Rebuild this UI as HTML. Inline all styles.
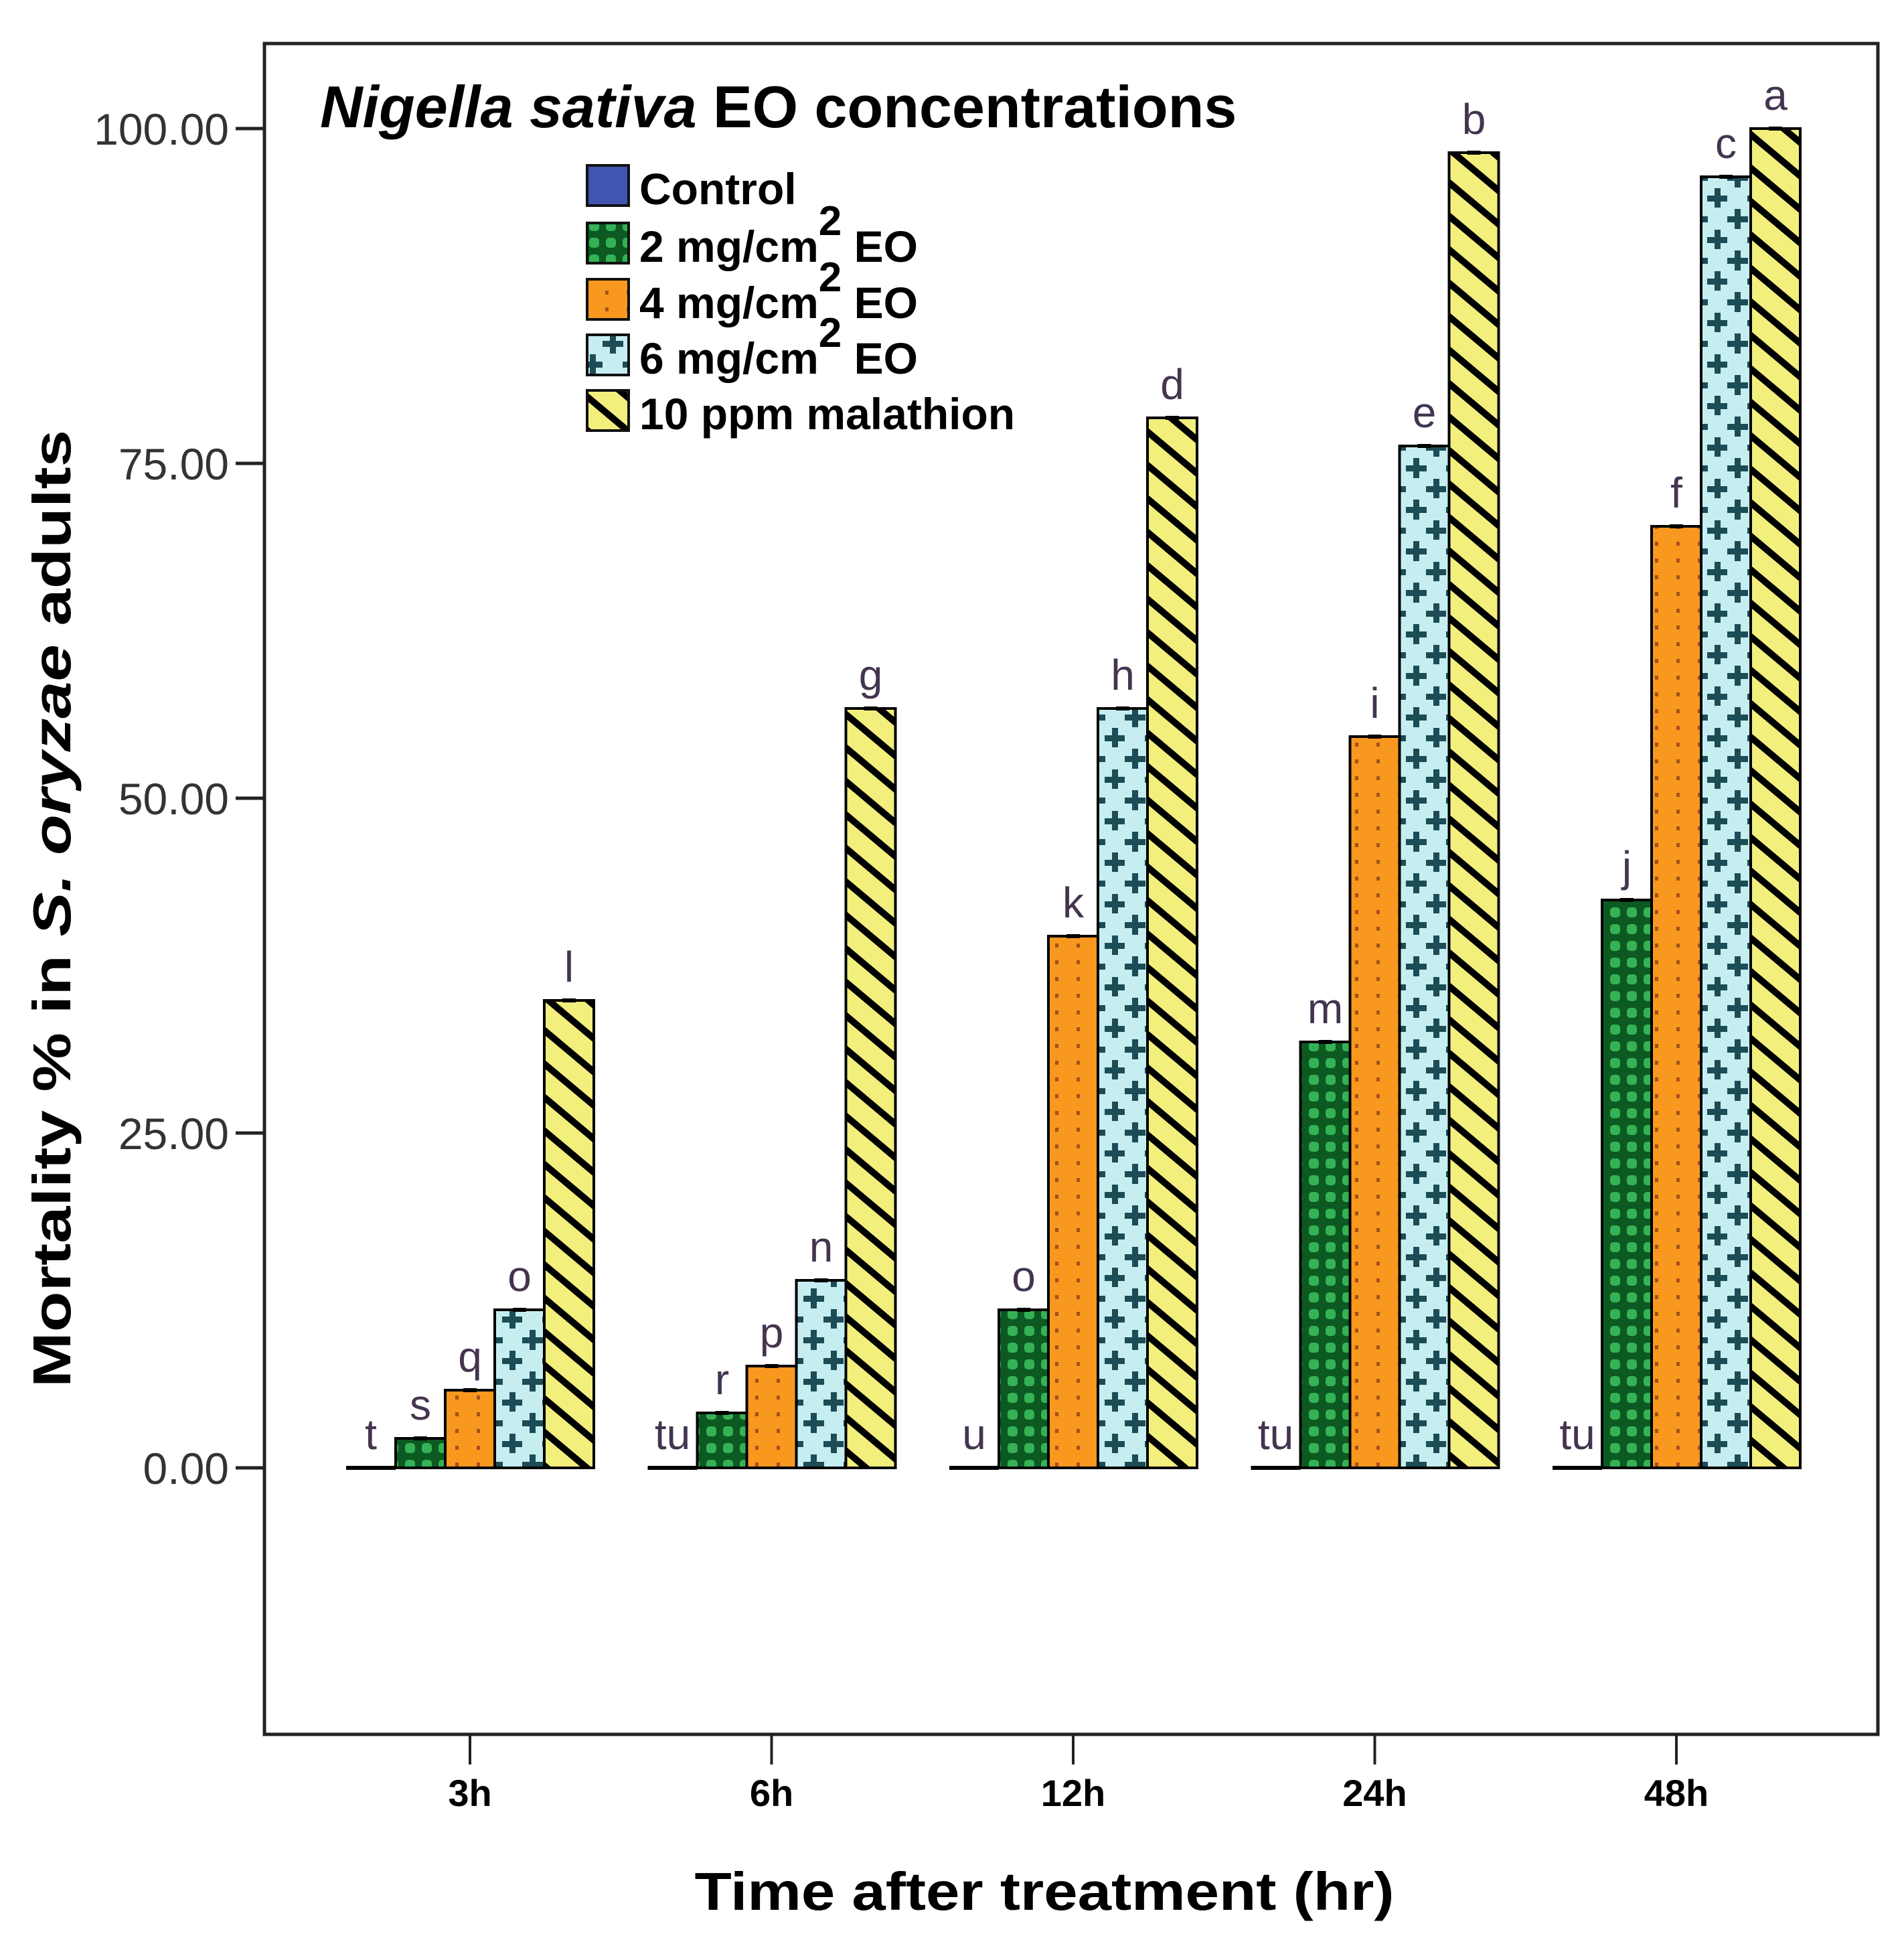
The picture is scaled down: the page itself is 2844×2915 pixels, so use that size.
<!DOCTYPE html>
<html><head><meta charset="utf-8"><style>
html,body{margin:0;padding:0;background:#fff;}
svg{display:block;}
text{font-family:"Liberation Sans",Arial,sans-serif;}
</style></head><body>
<svg id="chart" width="2844" height="2915" viewBox="0 0 2844 2915" xmlns="http://www.w3.org/2000/svg">
<defs>
<pattern id="pGreen" patternUnits="userSpaceOnUse" width="25" height="25">
<rect width="25" height="25" fill="#0c5a22"/><rect x="5" y="5" width="15" height="15" rx="5" fill="#35b255"/></pattern>
<pattern id="pOrange" patternUnits="userSpaceOnUse" width="32" height="25">
<rect width="32" height="25" fill="#f8981f"/><rect x="8" y="9" width="5" height="6" fill="#a3521a"/></pattern>
<pattern id="pCyan" patternUnits="userSpaceOnUse" width="60" height="62">
<rect width="60" height="62" fill="#c6eef1"/>
<g fill="#1c4c55"><rect x="11" y="2" width="9" height="30"/><rect x="0" y="13" width="31" height="9"/>
<rect x="41" y="33" width="9" height="30"/><rect x="30" y="44" width="31" height="9"/></g></pattern>
<pattern id="pYellow" patternUnits="userSpaceOnUse" width="60" height="50" patternTransform="skewY(40)">
<rect width="60" height="50" fill="#f3ef7d"/><rect y="0" width="60" height="13" fill="#000"/></pattern>
</defs>
<rect x="0" y="0" width="2844" height="2915" fill="#fff"/>
<rect x="395" y="65" width="2410" height="2525" fill="none" stroke="#222" stroke-width="5"/>
<g id="yaxis"></g>
<g id="xaxis"></g>
<g id="bars"></g>
<g id="labels"></g>
<text x="478" y="190" font-size="88" font-weight="bold"><tspan font-style="italic">Nigella sativa</tspan> EO concentrations</text>
<g font-size="66" font-weight="bold">
<g><rect x="877" y="247" width="62" height="60" fill="#3f55b0" stroke="#111" stroke-width="4"/><text x="955" y="305">Control</text></g>
<g><rect x="877" y="333" width="62" height="60" fill="url(#pGreen)" stroke="#111" stroke-width="4"/><text x="955" y="391">2 mg/cm<tspan dy="-40" font-size="62">2</tspan><tspan dy="40"> EO</tspan></text></g>
<g><rect x="877" y="417" width="62" height="60" fill="url(#pOrange)" stroke="#111" stroke-width="4"/><text x="955" y="475">4 mg/cm<tspan dy="-40" font-size="62">2</tspan><tspan dy="40"> EO</tspan></text></g>
<g><rect x="877" y="500" width="62" height="60" fill="url(#pCyan)" stroke="#111" stroke-width="4"/><text x="955" y="558">6 mg/cm<tspan dy="-40" font-size="62">2</tspan><tspan dy="40"> EO</tspan></text></g>
<g><rect x="877" y="583" width="62" height="60" fill="url(#pYellow)" stroke="#111" stroke-width="4"/><text x="955" y="641">10 ppm malathion</text></g>
</g>
<text transform="translate(105,1357) rotate(-90)" text-anchor="middle" font-size="80" font-weight="bold" textLength="1430" lengthAdjust="spacingAndGlyphs">Mortality % in <tspan font-style="italic">S. oryzae</tspan> adults</text>
<text x="1560" y="2852" text-anchor="middle" font-size="80" font-weight="bold" textLength="1045" lengthAdjust="spacingAndGlyphs">Time after treatment (hr)</text>
</svg>
<script>
const categories = ["3h","6h","12h","24h","48h"];
const seriesNames = ["Control","2 mg/cm2 EO","4 mg/cm2 EO","6 mg/cm2 EO","10 ppm malathion"];
const control = [0,0,0,0,0];
const eo2 = [2.2,4.1,11.8,31.8,42.4];
const eo4 = [5.8,7.6,39.7,54.6,70.3];
const eo6 = [11.8,14.0,56.7,76.3,96.4];
const malathion = [34.9,56.7,78.4,98.2,100];
const letters = [["t","s","q","o","l"],["tu","r","p","n","g"],["u","o","k","h","d"],["tu","m","i","e","b"],["tu","j","f","c","a"]];
const yTicks = [0,25,50,75,100];
const yTickLabels = ["0.00","25.00","50.00","75.00","100.00"];

const NS="http://www.w3.org/2000/svg";
const fills=["#3f55b0","url(#pGreen)","url(#pOrange)","url(#pCyan)","url(#pYellow)"];
const series=[control,eo2,eo4,eo6,malathion];
function y(v){return 2192 - v*20;}
function xc(i){return 702 + i*450.5;}
const BW=74;
function el(t,a,p){const e=document.createElementNS(NS,t);for(const k in a)e.setAttribute(k,a[k]);p.appendChild(e);return e;}
const ya=document.getElementById('yaxis');
yTicks.forEach((v,i)=>{
 const l=el('line',{x1:352,x2:395,y1:y(v),y2:y(v),stroke:'#222','stroke-width':5},ya);
 
 
 const t=el('text',{x:342,y:y(v)+24,'text-anchor':'end','font-size':66,fill:'#333'},ya);
 t.textContent=yTickLabels[i];
 
 
});
const xa=document.getElementById('xaxis');
categories.forEach((c,i)=>{
 const l=el('line',{x1:xc(i),x2:xc(i),y1:2590,y2:2635,stroke:'#222','stroke-width':4},xa);
 
 
 const t=el('text',{x:xc(i),y:2697,'text-anchor':'middle','font-size':56,'font-weight':'bold'},xa);
 t.textContent=c;
 
 
});
const bg=document.getElementById('bars'), lg=document.getElementById('labels');
categories.forEach((c,i)=>{
 series.forEach((s,j)=>{
  const x0=xc(i)-2.5*BW+j*BW, v=s[i], top=y(v);
  if(v>0){
   const r=el('rect',{x:x0,y:top,width:BW,height:y(0)-top,fill:fills[j],stroke:'#000','stroke-width':4},bg);
   
   
   const cap=el('line',{x1:x0+BW/2-10,x2:x0+BW/2+10,y1:top,y2:top,stroke:'#000','stroke-width':6},bg);
   
   
  } else {
   const r=el('line',{x1:x0,x2:x0+BW,y1:y(0),y2:y(0),stroke:'#000','stroke-width':6},bg);
   
   
  }
  const t=el('text',{x:x0+BW/2,y:top-28,'text-anchor':'middle','font-size':64,fill:'#43344f'},lg);
  t.textContent=letters[i][j];
  
  
 });
});
</script>
</body></html>
